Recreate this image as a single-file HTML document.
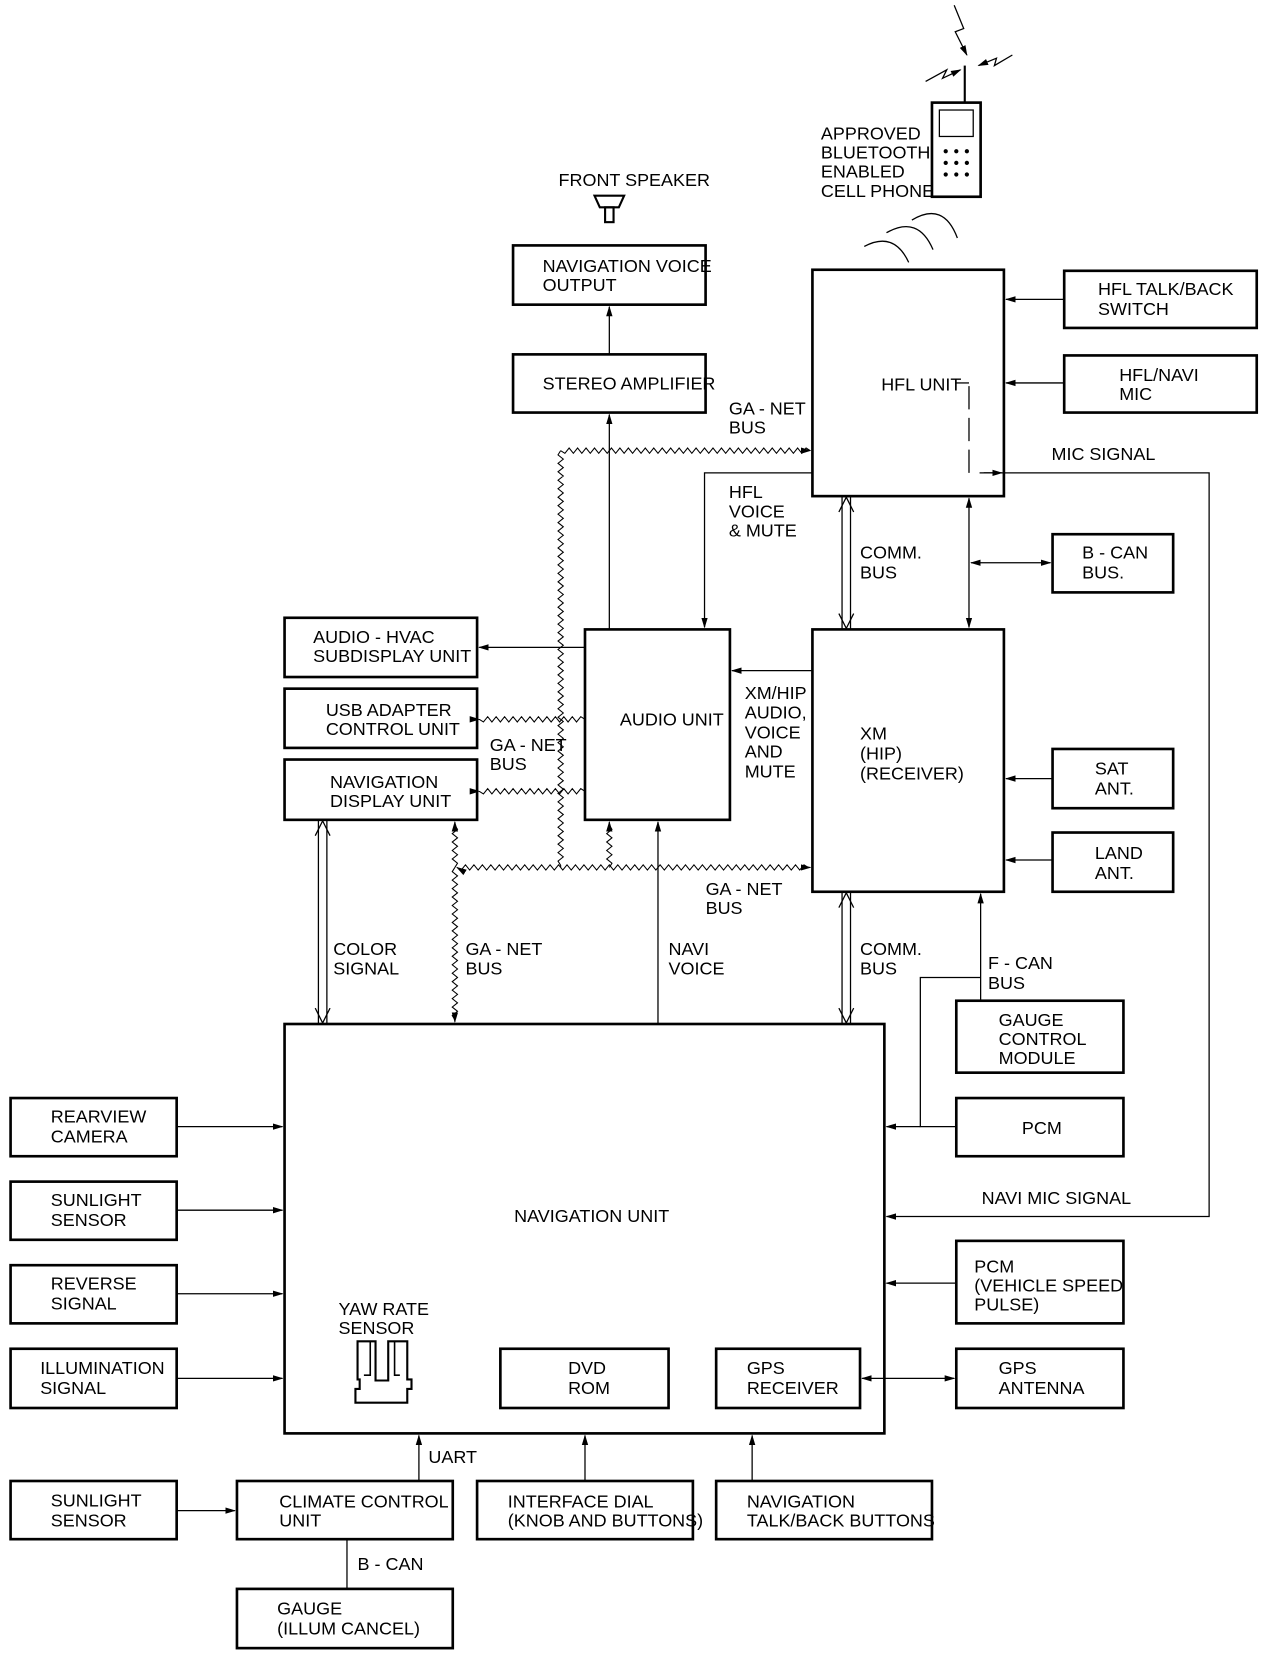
<!DOCTYPE html>
<html><head><meta charset="utf-8"><style>
html,body{margin:0;padding:0;background:#fff}
svg{display:block}
text{font-family:"Liberation Sans",sans-serif;font-size:17px;fill:#000}
</style></head><body>
<svg id="s" width="1280" height="1664" viewBox="0 0 1210 1573" preserveAspectRatio="none" xmlns="http://www.w3.org/2000/svg">
<defs>
<marker id="a" markerWidth="10" markerHeight="8" refX="9" refY="4" orient="auto" markerUnits="userSpaceOnUse"><path d="M0,1 L10,4 L0,7 Z" fill="#000"/></marker>
<marker id="b" markerWidth="10" markerHeight="8" refX="1" refY="4" orient="auto" markerUnits="userSpaceOnUse"><path d="M10,1 L0,4 L10,7 Z" fill="#000"/></marker>
</defs>
<g fill="none" stroke="#000" stroke-width="2.5">
<rect x="485" y="232" width="182" height="56"/>
<rect x="485" y="335" width="182" height="55"/>
<rect x="768" y="255" width="181" height="214"/>
<rect x="1006" y="256" width="182" height="54"/>
<rect x="1006" y="336" width="182" height="54"/>
<rect x="995" y="505" width="114" height="55"/>
<rect x="768" y="595" width="181" height="248"/>
<rect x="995" y="708" width="114" height="56"/>
<rect x="995" y="787" width="114" height="56"/>
<rect x="553" y="595" width="137" height="180"/>
<rect x="269" y="584" width="182" height="56"/>
<rect x="269" y="651" width="182" height="56"/>
<rect x="269" y="718" width="182" height="57"/>
<rect x="269" y="968" width="567" height="387"/>
<rect x="904" y="946" width="158" height="68"/>
<rect x="904" y="1038" width="158" height="55"/>
<rect x="904" y="1173" width="158" height="78"/>
<rect x="904" y="1275" width="158" height="56"/>
<rect x="10" y="1038" width="157" height="55"/>
<rect x="10" y="1117" width="157" height="55"/>
<rect x="10" y="1196" width="157" height="55"/>
<rect x="10" y="1275" width="157" height="56"/>
<rect x="473" y="1275" width="159" height="56"/>
<rect x="677" y="1275" width="136" height="56"/>
<rect x="10" y="1400" width="157" height="55"/>
<rect x="224" y="1400" width="204" height="55"/>
<rect x="451" y="1400" width="204" height="55"/>
<rect x="677" y="1400" width="204" height="55"/>
<rect x="224" y="1502" width="204" height="56"/>
<rect x="881" y="97" width="46" height="89"/>
</g>
<g fill="none" stroke="#000" stroke-width="1.2">
<rect x="888" y="104" width="32" height="25"/>
<line x1="912" y1="97" x2="912" y2="62" stroke-width="2"/>
<polyline points="875,77 895,66 891,74 908,66" marker-end="url(#a)"/>
<polyline points="957,52 940,62 942,55 925,62" marker-end="url(#a)"/>
<polyline points="902,5 911,27 903,30 914,52" marker-end="url(#a)"/>
<path d="M817,233 Q845,218 859,248"/><path d="M838,220 Q868,203 882,236"/><path d="M862,208 Q892,190 905,225"/>
<path d="M562,185 L590,185 L585,196 L567,196 Z" stroke-width="2"/><rect x="572" y="196" width="8" height="14" stroke-width="2"/>
<path d="M338,1268 H355 V1305 H367 V1268 H385 V1304 H389 V1313 H385 V1326 H336 V1313 H340 V1304 H338 Z" stroke-width="2"/>
<path d="M350,1268 V1300 H344 M373,1268 V1300 H378" stroke-width="1.5"/>
<line x1="576" y1="335" x2="576" y2="290" marker-end="url(#a)"/>
<line x1="576" y1="595" x2="576" y2="392" marker-end="url(#a)"/>
<polyline points="768,447 666,447 666,593" marker-end="url(#a)"/>
<line x1="553" y1="612" x2="453" y2="612" marker-end="url(#a)"/>
<line x1="768" y1="634" x2="692" y2="634" marker-end="url(#a)"/>
<line x1="622" y1="968" x2="622" y2="777" marker-end="url(#a)"/>
<line x1="1006" y1="283" x2="951" y2="283" marker-end="url(#a)"/>
<line x1="1006" y1="362" x2="951" y2="362" marker-end="url(#a)"/>
<line x1="995" y1="736" x2="951" y2="736" marker-end="url(#a)"/>
<line x1="995" y1="813" x2="951" y2="813" marker-end="url(#a)"/>
<line x1="916" y1="471" x2="916" y2="593" marker-start="url(#b)" marker-end="url(#a)"/>
<line x1="918" y1="532" x2="993" y2="532" marker-start="url(#b)" marker-end="url(#a)"/>
<polyline points="916,365 916,447" stroke-dasharray="22,8"/>
<polyline points="926,447 1143,447 1143,1150 838,1150" marker-end="url(#a)"/>
<line x1="930" y1="447" x2="947" y2="447" marker-end="url(#a)"/>
<line x1="903" y1="362" x2="916" y2="362"/>
<line x1="927" y1="946" x2="927" y2="845" marker-end="url(#a)"/>
<polyline points="904,1065 870,1065 870,924 927,924"/>
<line x1="870" y1="1065" x2="838" y2="1065" marker-end="url(#a)"/>
<line x1="904" y1="1213" x2="838" y2="1213" marker-end="url(#a)"/>
<line x1="815" y1="1303" x2="902" y2="1303" marker-start="url(#b)" marker-end="url(#a)"/>
<line x1="167" y1="1065" x2="267" y2="1065" marker-end="url(#a)"/>
<line x1="167" y1="1144" x2="267" y2="1144" marker-end="url(#a)"/>
<line x1="167" y1="1223" x2="267" y2="1223" marker-end="url(#a)"/>
<line x1="167" y1="1303" x2="267" y2="1303" marker-end="url(#a)"/>
<line x1="167" y1="1428" x2="222" y2="1428" marker-end="url(#a)"/>
<line x1="396" y1="1400" x2="396" y2="1357" marker-end="url(#a)"/>
<line x1="553" y1="1400" x2="553" y2="1357" marker-end="url(#a)"/>
<line x1="711" y1="1400" x2="711" y2="1357" marker-end="url(#a)"/>
<line x1="328" y1="1455" x2="328" y2="1502"/>
<line x1="796" y1="469" x2="796" y2="595"/><line x1="804" y1="469" x2="804" y2="595"/>
<line x1="796" y1="843" x2="796" y2="968"/><line x1="804" y1="843" x2="804" y2="968"/>
<line x1="301" y1="775" x2="301" y2="968"/><line x1="309" y1="775" x2="309" y2="968"/>
<path d="M793,484 L800,470 L807,484 M793,580 L800,594 L807,580 M793,858 L800,844 L807,858 M793,953 L800,967 L807,953 M298,790 L305,776 L312,790 M298,953 L305,967 L312,953"/>
<g id="w"></g>
</g>
<g>
<text x="528" y="176">FRONT SPEAKER</text>
<text x="513" y="257">NAVIGATION VOICE</text><text x="513" y="275">OUTPUT</text>
<text x="513" y="368">STEREO AMPLIFIER</text>
<text x="776" y="132">APPROVED</text><text x="776" y="150">BLUETOOTH</text><text x="776" y="168">ENABLED</text><text x="776" y="186">CELL PHONE</text>
<text x="833" y="369">HFL UNIT</text>
<text x="1038" y="279">HFL TALK/BACK</text><text x="1038" y="298">SWITCH</text>
<text x="1058" y="360">HFL/NAVI</text><text x="1058" y="378">MIC</text>
<text x="689" y="392">GA - NET</text><text x="689" y="410">BUS</text>
<text x="994" y="435">MIC SIGNAL</text>
<text x="689" y="471">HFL</text><text x="689" y="489">VOICE</text><text x="689" y="507">&amp; MUTE</text>
<text x="813" y="528">COMM.</text><text x="813" y="547">BUS</text>
<text x="1023" y="528">B - CAN</text><text x="1023" y="547">BUS.</text>
<text x="296" y="608">AUDIO - HVAC</text><text x="296" y="626">SUBDISPLAY UNIT</text>
<text x="308" y="677">USB ADAPTER</text><text x="308" y="695">CONTROL UNIT</text>
<text x="312" y="745">NAVIGATION</text><text x="312" y="763">DISPLAY UNIT</text>
<text x="586" y="686">AUDIO UNIT</text>
<text x="463" y="710">GA - NET</text><text x="463" y="728">BUS</text>
<text x="704" y="661">XM/HIP</text><text x="704" y="679">AUDIO,</text><text x="704" y="698">VOICE</text><text x="704" y="716">AND</text><text x="704" y="735">MUTE</text>
<text x="813" y="699">XM</text><text x="813" y="718">(HIP)</text><text x="813" y="737">(RECEIVER)</text>
<text x="1035" y="732">SAT</text><text x="1035" y="751">ANT.</text>
<text x="1035" y="812">LAND</text><text x="1035" y="831">ANT.</text>
<text x="667" y="846">GA - NET</text><text x="667" y="864">BUS</text>
<text x="315" y="903">COLOR</text><text x="315" y="921">SIGNAL</text>
<text x="440" y="903">GA - NET</text><text x="440" y="921">BUS</text>
<text x="632" y="903">NAVI</text><text x="632" y="921">VOICE</text>
<text x="813" y="903">COMM.</text><text x="813" y="921">BUS</text>
<text x="934" y="916">F - CAN</text><text x="934" y="935">BUS</text>
<text x="944" y="970">GAUGE</text><text x="944" y="988">CONTROL</text><text x="944" y="1006">MODULE</text>
<text x="966" y="1072">PCM</text>
<text x="48" y="1061">REARVIEW</text><text x="48" y="1080">CAMERA</text>
<text x="48" y="1140">SUNLIGHT</text><text x="48" y="1159">SENSOR</text>
<text x="48" y="1219">REVERSE</text><text x="48" y="1238">SIGNAL</text>
<text x="38" y="1299">ILLUMINATION</text><text x="38" y="1318">SIGNAL</text>
<text x="486" y="1155">NAVIGATION UNIT</text>
<text x="928" y="1138">NAVI MIC SIGNAL</text>
<text x="921" y="1203">PCM</text><text x="921" y="1221">(VEHICLE SPEED</text><text x="921" y="1239">PULSE)</text>
<text x="944" y="1299">GPS</text><text x="944" y="1318">ANTENNA</text>
<text x="320" y="1243">YAW RATE</text><text x="320" y="1261">SENSOR</text>
<text x="537" y="1299">DVD</text><text x="537" y="1318">ROM</text>
<text x="706" y="1299">GPS</text><text x="706" y="1318">RECEIVER</text>
<text x="405" y="1383">UART</text>
<text x="48" y="1424">SUNLIGHT</text><text x="48" y="1443">SENSOR</text>
<text x="264" y="1425">CLIMATE CONTROL</text><text x="264" y="1443">UNIT</text>
<text x="480" y="1425">INTERFACE DIAL</text><text x="480" y="1443">(KNOB AND BUTTONS)</text>
<text x="706" y="1425">NAVIGATION</text><text x="706" y="1443">TALK/BACK BUTTONS</text>
<text x="338" y="1484">B - CAN</text>
<text x="262" y="1526">GAUGE</text><text x="262" y="1545">(ILLUM CANCEL)</text>
</g>
<g fill="#000">
<circle cx="894" cy="143" r="2"/><circle cx="904" cy="143" r="2"/><circle cx="914" cy="143" r="2"/>
<circle cx="894" cy="154" r="2"/><circle cx="904" cy="154" r="2"/><circle cx="914" cy="154" r="2"/>
<circle cx="894" cy="165" r="2"/><circle cx="904" cy="165" r="2"/><circle cx="914" cy="165" r="2"/>
</g>
</svg>
<script>
(function(){
var g=document.getElementById('w');var ns='http://www.w3.org/2000/svg';
function z(x1,y1,x2,y2,ms,me){var dx=x2-x1,dy=y2-y1,L=Math.hypot(dx,dy),ux=dx/L,uy=dy/L,px=-uy,py=ux,pts=[],st=4,n=Math.floor(L/st);
for(var i=0;i<=n;i++){var a=(i%2?2.5:-2.5);if(i==0||i==n)a=0;pts.push((x1+ux*i*st+px*a).toFixed(1)+','+(y1+uy*i*st+py*a).toFixed(1));}
pts.push(x2+','+y2);var p=document.createElementNS(ns,'polyline');p.setAttribute('points',pts.join(' '));p.setAttribute('stroke-width','1');
if(ms)p.setAttribute('marker-start','url(#b)');if(me)p.setAttribute('marker-end','url(#a)');g.appendChild(p);}
z(530,426,766,426,0,1);z(530,426,530,820);z(432,820,766,820,1,1);
z(430,820,430,777,0,1);z(430,820,430,966,0,1);z(576,820,576,777,0,1);
z(553,680,453,680,0,1);z(553,748,453,748,0,1);
})();
</script>
</body></html>
